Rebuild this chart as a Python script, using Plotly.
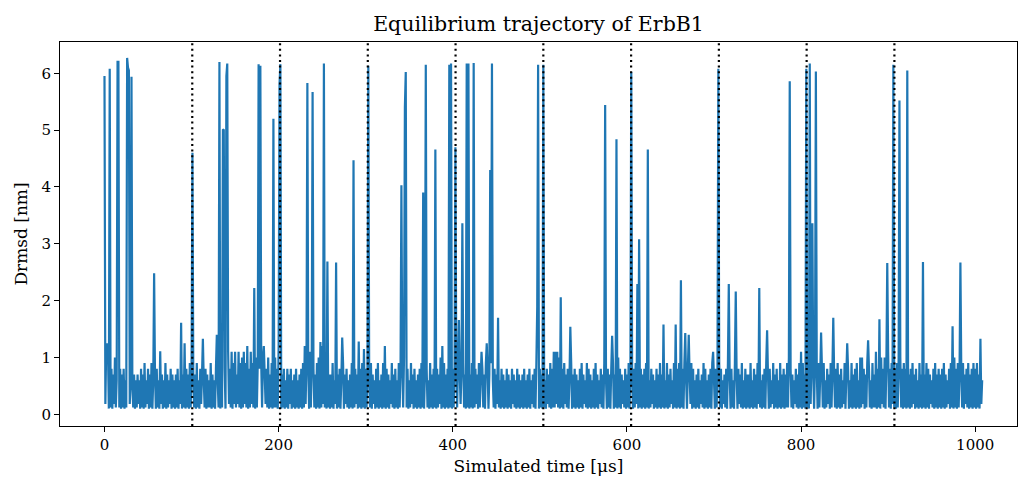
import numpy as np
import plotly.graph_objects as go

# ---- data ----
time_step_us = 1.0

baseline = [
    .5,.18,1.2,.12,1.1,.1,.6,.12,.8,.1,.7,.18,1.0,.12,.6,.1,.6,.12,.8,.1,
    .7,.12,.8,.1,.6,.12,.5,.1,.9,.18,.6,.1,.5,.12,.7,.1,.6,.12,.7,.18,
    .6,.1,.8,.12,.7,.1,.9,.12,.6,.18,.8,.1,.7,.12,.9,.1,.6,.12,.7,.1,
    .8,.12,.6,.1,.9,.18,.7,.1,.6,.12,.9,.1,.7,.12,.6,.18,.8,.1,.7,.12,
    .6,.1,.7,.12,.8,.1,.6,.18,.5,.1,.7,.12,.6,.1,.8,.12,.7,.1,.9,.12,
    .8,.1,.6,.12,.7,.1,.9,.12,.6,.1,.8,.18,.7,.1,.6,.12,.8,.1,.7,.12,
    .6,.12,.9,.1,.7,.12,.6,.1,.8,.18,.6,.12,.7,.1,.9,.12,1.0,.12,.8,.1,
    1.0,.12,1.1,.18,.8,.12,1.1,.1,.9,.18,1.1,.12,.7,.18,1.1,.12,.9,.1,1.0,.12,
    1.1,.18,.9,.12,1.2,.1,.8,.12,1.1,.18,.9,.12,.7,.1,1.0,.12,.9,.12,.8,.1,
    .9,.12,1.0,.1,.7,.18,.8,.12,1.0,.1,.7,.12,.9,.1,.6,.12,1.0,.12,.8,.1,
    1.2,.12,.8,.1,.7,.12,.8,.1,.6,.12,.8,.1,.7,.18,.8,.1,.6,.12,.7,.1,
    .8,.12,.6,.1,.7,.12,.8,.1,.9,.12,1.2,.18,1.0,.12,.8,.1,1.1,.12,.9,.1,
    .8,.12,.7,.1,.9,.12,1.0,.1,1.3,.12,1.2,.18,.9,.12,.8,.1,1.0,.12,.7,.1,
    .7,.12,.9,.1,.6,.18,.8,.1,.7,.12,.8,.1,.6,.12,.9,.1,.7,.18,.8,.12,
    .6,.1,.7,.12,.9,.1,.6,.12,.8,.18,.7,.1,.6,.12,.8,.1,.9,.12,.7,.1,
    .8,.12,.7,.1,.6,.12,.9,.1,.7,.18,.6,.1,.8,.12,.9,.1,.6,.12,.7,.1,
    .9,.12,.6,.1,.8,.12,.7,.1,.6,.18,.9,.12,.7,.1,.8,.12,.6,.1,.9,.12,
    .8,.1,.9,.12,1.0,.1,.7,.12,.8,.1,.6,.12,.9,.18,.7,.1,.8,.12,.6,.1,
    .7,.12,.8,.1,.9,.12,.6,.1,.7,.18,.8,.12,.6,.1,.9,.12,.7,.1,.8,.12,
    .6,.1,.8,.12,.7,.18,1.0,.1,.8,.12,.9,.1,.7,.12,.8,.1,.6,.12,.9,.1,
    .8,.12,.7,.1,1.0,.12,.9,.1,.7,.18,.8,.1,.9,.12,.7,.1,.8,.12,.6,.1,
    .7,.12,.9,.1,.6,.12,.8,.18,.7,.1,.9,.12,.6,.1,.8,.12,.7,.1,.9,.12,
    .8,.1,.7,.12,.9,.1,.6,.12,.8,.1,.7,.18,.9,.12,.6,.1,.8,.12,.7,.1,
    .6,.12,.8,.1,.7,.12,.6,.1,.8,.18,.7,.12,.6,.1,.8,.12,.7,.1,.6,.12,
    .7,.1,.8,.12,.6,.1,.7,.12,.8,.1,.6,.18,.7,.12,.8,.1,.9,.12,.7,.1,
    .8,.12,.7,.1,.9,.12,.6,.1,.8,.18,.7,.12,.9,.1,.8,.12,1.1,.12,1.1,.18,
    1.1,.12,1.0,.1,.9,.12,.8,.1,.9,.18,.7,.12,.8,.1,.6,.12,.9,.1,.7,.12,
    .8,.1,.7,.12,.6,.1,.8,.12,.9,.1,.7,.18,.6,.12,.9,.1,.8,.12,.7,.1,
    .6,.12,.8,.1,.9,.12,.7,.1,.6,.18,.8,.12,.7,.1,.9,.12,.6,.1,.8,.12,
    .7,.1,.8,.12,.9,.1,.7,.12,.6,.1,1.0,.12,.8,.1,.7,.18,.6,.12,.8,.1,
    .7,.12,.9,.1,.8,.12,.6,.1,.8,.12,.9,.18,.7,.1,.9,.12,.8,.1,.7,.12,
    .8,.1,.9,.12,.7,.1,.6,.12,.8,.18,.7,.1,.6,.12,.8,.1,.7,.12,.9,.1,
    .7,.12,.8,.1,.6,.12,.9,.1,.7,.12,.8,.18,.6,.1,.9,.12,.7,.1,.8,.12,
    .9,.1,.7,.12,.8,.1,.9,.12,.6,.1,.8,.12,.7,.18,.9,.1,.8,.12,.6,.1,
    .7,.12,.8,.1,.6,.18,.7,.12,.9,.1,.8,.12,.6,.1,.7,.12,.8,.1,.9,.12,
    .6,.1,.8,.12,.7,.1,.9,.12,.8,.1,.6,.18,.7,.12,.8,.1,.9,.12,.7,.1,
    .8,.12,.6,.1,.9,.12,.7,.1,.8,.18,.7,.12,.9,.1,.6,.12,.8,.1,.7,.12,
    .7,.1,.9,.12,.6,.1,.8,.12,.7,.1,.9,.18,.8,.12,.6,.1,.7,.12,.8,.1,
    .9,.12,.7,.1,.8,.12,.6,.18,.9,.1,.7,.12,.8,.1,.6,.12,.9,.1,.7,.12,
    .8,.1,.7,.12,.9,.12,1.0,.1,.8,.12,.7,.1,.6,.18,.8,.12,.7,.1,.9,.12,
    .8,.1,.9,.12,.7,.1,1.0,.12,.8,.1,.9,.18,1.0,.12,.7,.1,.9,.12,.8,.1,
    .9,.12,.7,.1,.8,.12,.9,.1,.6,.12,.8,.18,.7,.1,.9,.12,.8,.1,.7,.12,
    .8,.1,.9,.12,.7,.1,.8,.12,.6,.18,.9,.1,.7,.12,.8,.1,.6,.12,.9,.1,
    .7,.12,.8,.1,.9,.12,.6,.1,1.0,.12,1.0,.18,.8,.1,.7,.12,.9,.1,.8,.12,
    .6,.1,.9,.12,.7,.12,1.1,.1,.8,.12,.9,.1,1.0,.18,.8,.12,1.0,.1,.9,.12,
    1.1,.12,.8,.1,.9,.18,1.0,.12,.8,.1,.9,.12,.7,.1,1.0,.12,.8,.1,.9,.12,
    .8,.1,.9,.12,.7,.1,.8,.12,.9,.18,.7,.1,.8,.12,.6,.1,.9,.12,.7,.1,
    .8,.12,.7,.1,.9,.12,.8,.1,.7,.18,.6,.12,.8,.1,.9,.12,.7,.1,.8,.12,
    .7,.1,.8,.12,.9,.1,.7,.12,.6,.18,.8,.1,.9,.12,.7,.1,1.0,.12,.8,.1,
    .9,.12,.7,.1,.8,.12,.9,.1,.7,.18,.8,.12,.9,.1,.7,.12,.8,.1,.9,.12,
    .8,.1,.9,.12,.7,.1,.8,.18,.6,
]

spike_times = [
    0, 3, 6, 12, 15, 16, 26, 27, 28, 31, 57, 64, 88, 92, 101, 113, 129, 132,
    136, 137, 140, 141, 172, 177, 179, 183, 194, 201, 202, 230, 233, 239, 248,
    252, 256, 266, 273, 286, 292, 298, 303, 322, 341, 345, 346, 366, 369, 380,
    388, 396, 398, 403, 407, 411, 416, 418, 424, 433, 439, 443, 445, 452, 497,
    498, 504, 524, 535, 575, 583, 588, 605, 612, 614, 624, 642, 656, 662, 667,
    671, 699, 705, 717, 725, 752, 761, 787, 800, 806, 810, 813, 817, 823, 837,
    853, 877, 890, 899, 906, 913, 922, 940, 974, 983, 1006,
]
spike_values = [
    5.95, 1.25, 6.08, 1.0, 6.2, 6.2, 6.27, 6.1, 6.05, 5.94, 2.48, 1.11, 1.61,
    1.25, 4.6, 1.33, 1.4, 6.2, 5.0, 5.01, 5.95, 6.17, 2.22, 6.16, 6.13, 1.2,
    5.2, 5.8, 6.16, 1.2, 5.83, 5.67, 1.27, 6.17, 2.69, 2.67, 1.35, 4.47, 1.28,
    1.15, 6.13, 1.2, 4.03, 5.4, 6.02, 3.9, 6.15, 4.66, 1.2, 6.15, 6.17, 4.7,
    1.66, 3.36, 6.17, 6.17, 6.18, 1.1, 1.25, 4.3, 6.17, 1.7, 1.9, 6.15, 6.15,
    2.06, 1.54, 5.44, 1.38, 4.84, 6.02, 2.29, 3.08, 4.66, 1.58, 1.58, 2.36,
    1.43, 1.4, 1.1, 6.08, 2.29, 2.16, 2.22, 1.48, 5.86, 1.1, 6.08, 6.17, 3.36,
    6.03, 1.44, 1.7, 1.25, 1.3, 1.67, 2.66, 6.15, 5.52, 6.05, 2.68, 1.55,
    2.67, 1.33,
]

segment_boundaries = [100.8, 201.6, 302.4, 403.2, 504.0, 604.8, 705.6, 806.4, 907.2]

x_ticks = [0, 200, 400, 600, 800, 1000]
y_ticks = [0, 1, 2, 3, 4, 5, 6]

# ---- assemble the trajectory ----
drmsd = list(baseline)
for t, v in zip(spike_times, spike_values):
    drmsd[int(round(t / time_step_us))] = v
times = np.arange(len(drmsd)) * time_step_us

FONT = "DejaVu Serif"

fig = go.Figure()
fig.add_trace(go.Scatter(
    x=times, y=drmsd, mode="lines",
    line=dict(color="#1f77b4", width=2.2, simplify=False),
    hoverinfo="skip", showlegend=False,
))

for b in segment_boundaries:
    fig.add_shape(type="line", xref="x", yref="paper", x0=b, x1=b, y0=0, y1=1,
                  line=dict(color="black", width=2.2, dash="2px,3.6px"),
                  layer="above")

axis_common = dict(
    showline=True, linecolor="black", linewidth=1.1, mirror=True,
    ticks="outside", ticklen=5, tickwidth=1.1, tickcolor="black",
    showgrid=False, zeroline=False,
    tickfont=dict(family=FONT, size=15, color="black"),
)

fig.update_layout(
    width=1018, height=481,
    autosize=False,
    margin=dict(l=60, r=1, t=42, b=55),
    paper_bgcolor="white", plot_bgcolor="white",
    font=dict(family=FONT, color="black"),
    title=dict(text="Equilibrium trajectory of ErbB1",
               font=dict(family=FONT, size=20.5, color="black"),
               x=0.5, xref="paper", xanchor="center",
               y=1 - 24 / 481, yref="container", yanchor="middle"),
    xaxis=dict(range=[-51.1, 1048], tickvals=x_ticks,
               title=dict(text="Simulated time [μs]",
                          font=dict(family=FONT, size=17, color="black"),
                          standoff=7),
               **axis_common),
    yaxis=dict(range=[-0.206, 6.55], tickvals=y_ticks,
               title=dict(text="Drmsd [nm]",
                          font=dict(family=FONT, size=17, color="black"),
                          standoff=9),
               **axis_common),
)

fig.write_html("out.html")
